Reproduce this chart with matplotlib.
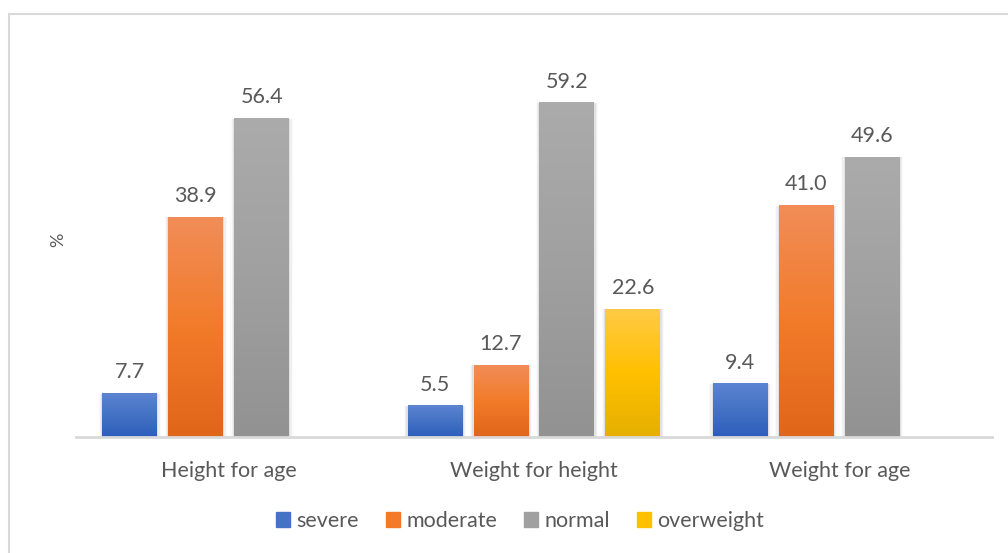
import numpy as np
import matplotlib.pyplot as plt
from matplotlib.colors import LinearSegmentedColormap
from matplotlib.patches import Rectangle

# data
categories = ['Height for age', 'Weight for height', 'Weight for age']
series = ['severe', 'moderate', 'normal', 'overweight']
severe = [7.7, 5.5, 9.4]
moderate = [38.9, 12.7, 41.0]
normal = [56.4, 59.2, 49.6]
overweight = [None, 22.6, None]

# gradient stops (top, middle, bottom) per series
grads = [
    ['#5c84d2', '#4472c4', '#2e5ebd'],
    ['#f18d58', '#f27b2a', '#e0661a'],
    ['#ababab', '#a0a0a0', '#929292'],
    ['#ffca45', '#ffc000', '#e5b000'],
]

plt.rcParams['font.family'] = ['Lato', 'DejaVu Sans']
txt = '#595959'
fs = 15.5

fig = plt.figure(figsize=(10.08, 5.53), dpi=100)
ax = fig.add_axes([76 / 1008, 1 - 437 / 553, 916 / 1008, 395 / 553])

x = np.arange(len(categories))
step = 0.216
width = 0.18
values = [severe, moderate, normal, overweight]

grad = np.linspace(0, 1, 256).reshape(-1, 1)
for i, (name, vals) in enumerate(zip(series, values)):
    cmap = LinearSegmentedColormap.from_list(name, grads[i][::-1])
    offs = (i - 1.5) * step
    heights = [v if v is not None else 0 for v in vals]
    bars = ax.bar(x + offs, heights, width, color=grads[i][1], label=name,
                  linewidth=0, zorder=2)
    for b, v in zip(bars, vals):
        if v is None:
            continue
        b.set_alpha(0)
        x0 = b.get_x()
        # soft shadow on the sides of the bar
        for k, a in enumerate([0.06, 0.04, 0.02]):
            d = 0.004 * (k + 1)
            ax.add_patch(Rectangle((x0 - d, 0), width + 2 * d, v,
                                   color='black', alpha=a, lw=0, zorder=1))
        ax.imshow(grad, cmap=cmap, aspect='auto', origin='lower',
                  extent=(x0, x0 + width, 0, v), zorder=3)
        ax.text(x0 + width / 2, v + 2.0, f'{v:.1f}', ha='center', va='bottom',
                fontsize=fs, color=txt, zorder=4)

ax.set_xlim(-0.5, 2.5)
ax.set_ylim(0, 70)
ax.set_xticks(x)
ax.set_xticklabels(categories, fontsize=fs, color=txt)
ax.tick_params(axis='x', length=0, pad=17)
ax.set_yticks([])
for s in ['top', 'right', 'left']:
    ax.spines[s].set_visible(False)
ax.spines['bottom'].set_color('#d9d9d9')
ax.spines['bottom'].set_linewidth(2)
ax.spines['bottom'].set_zorder(5)

fig.text(58 / 1008, 1 - 240 / 553, '%', rotation=90, ha='center', va='center',
         fontsize=13, color=txt)

handles = [Rectangle((0, 0), 1, 1, color=g[1]) for g in grads]
fig.legend(handles, series, loc='center', bbox_to_anchor=(520 / 1008, 1 - 521 / 553),
           ncol=4, frameon=False, fontsize=fs, labelcolor=txt,
           handlelength=0.65, handleheight=0.65, handletextpad=0.3,
           columnspacing=1.25)

# chart border
fig.patches.append(Rectangle((9 / 1008, -0.2), 1.2, 1.2 - 14 / 553, fill=False,
                             edgecolor='#d9d9d9', lw=1.5,
                             transform=fig.transFigure, figure=fig))

fig.savefig('out.png', dpi=100)
